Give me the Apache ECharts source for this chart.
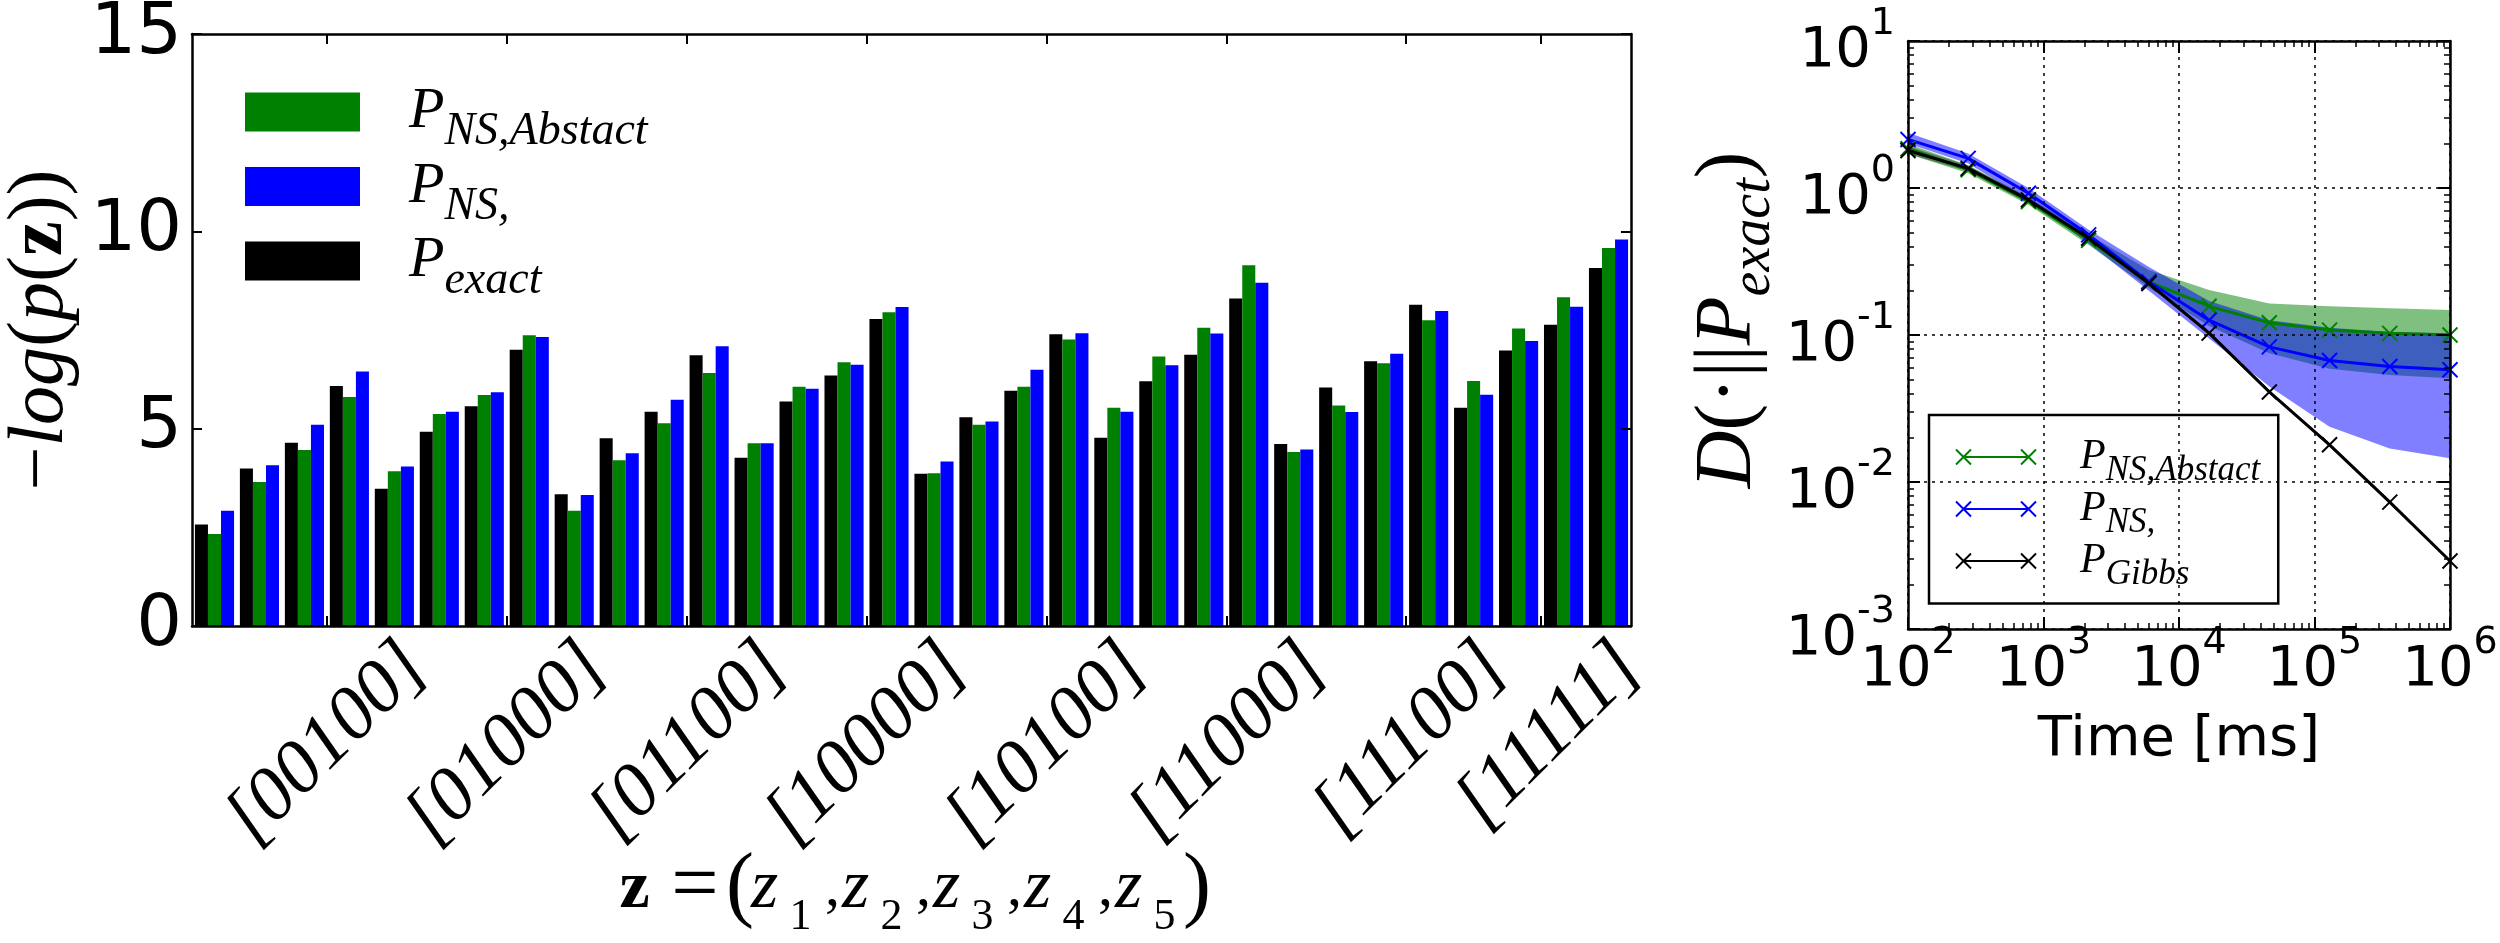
<!DOCTYPE html>
<html>
<head>
<meta charset="utf-8">
<script src="https://cdn.jsdelivr.net/npm/echarts@6/dist/echarts.min.js"></script>
<style>
html,body{margin:0;padding:0;background:#ffffff;}
#c{width:2500px;height:943px;}
</style>
</head>
<body>
<div id="c"></div>
<script>
// ---------------- data (left panel) ----------------
const categories = ['00000','00001','00010','00011','00100','00101','00110','00111',
  '01000','01001','01010','01011','01100','01101','01110','01111',
  '10000','10001','10010','10011','10100','10101','10110','10111',
  '11000','11001','11010','11011','11100','11101','11110','11111'];
const tickPos = [3, 7, 11, 15, 19, 23, 27, 30];
const tickLabels = ['[00100]','[01000]','[01100]','[10000]','[10100]','[11000]','[11100]','[11111]'];
const exactVals = [2.57,3.99,4.64,6.08,3.48,4.92,5.57,7.00,3.34,4.76,5.43,6.86,4.26,5.69,6.35,7.78,
  3.86,5.29,5.96,7.39,4.77,6.20,6.87,8.30,4.61,6.04,6.71,8.14,5.53,6.98,7.63,9.07];
const abstractVals = [2.33,3.65,4.46,5.80,3.92,5.37,5.85,7.37,2.92,4.20,5.14,6.41,4.63,6.06,6.68,7.95,
  3.87,5.10,6.06,7.26,5.53,6.83,7.56,9.14,4.41,5.59,6.66,7.75,6.21,7.54,8.33,9.58];
const nsVals = [2.92,4.07,5.10,6.45,4.04,5.43,5.92,7.32,3.32,4.38,5.73,7.09,4.63,6.01,6.62,8.08,
  4.17,5.18,6.49,7.42,5.43,6.61,7.41,8.70,4.47,5.42,6.90,7.98,5.86,7.22,8.09,9.79];
const leftYTicks = [0, 5, 10, 15];

// ---------------- data (right panel) ----------------
const timeMs = [100, 278, 774, 2154, 5995, 16681, 46416, 129155, 359381, 1000000];
const gibbsMean = [1.80, 1.36, 0.83, 0.455, 0.224, 0.103, 0.041, 0.0179, 0.0073, 0.0029];
const gibbsLow  = [1.70, 1.30, 0.80, 0.440, 0.218, 0.100, 0.040, 0.0174, 0.0071, 0.00282];
const gibbsHigh = [1.92, 1.42, 0.86, 0.470, 0.230, 0.106, 0.042, 0.0184, 0.0075, 0.00296];
const absMean = [1.85, 1.33, 0.81, 0.44, 0.23, 0.157, 0.121, 0.108, 0.1026, 0.100];
const absLow  = [1.70, 1.26, 0.77, 0.41, 0.21, 0.115, 0.075, 0.059, 0.0535, 0.0507];
const absHigh = [2.00, 1.43, 0.87, 0.48, 0.277, 0.2025, 0.164, 0.157, 0.152, 0.148];
const nsMean = [2.14, 1.59, 0.92, 0.48, 0.23, 0.126, 0.083, 0.067, 0.061, 0.058];
const nsLow  = [2.01, 1.47, 0.83, 0.42, 0.20, 0.0948, 0.0446, 0.0238, 0.0169, 0.0145];
const nsHigh = [2.38, 1.72, 1.00, 0.52, 0.29, 0.170, 0.126, 0.112, 0.105, 0.1026];
const minorMult = [2, 3, 4, 5, 6, 7, 8, 9];

const barLegend = {'bar-abstract': ['P', 'NS,Abstact'], 'bar-ns': ['P', 'NS,'], 'bar-exact': ['P', 'exact']};
const lineLegend = {'line-abstract': ['P', 'NS,Abstact'], 'line-ns': ['P', 'NS,'], 'line-gibbs': ['P', 'Gibbs']};

// ---------------- styling ----------------
const SERIF = "'Liberation Serif', 'DejaVu Serif', serif";
const SANS = "'DejaVu Sans', sans-serif";
const GREEN = '#008000', BLUE = '#0000ff', BLACK = '#000000';
const X_PATH = 'path://M0,0L10,10M10,0L0,10';
const LEG_PATH = 'path://M0,0L15,15M15,0L0,15M7.5,7.5L72.5,7.5M65,0L80,15M80,0L65,15';
const LABEL_SHIFT = 1.97;   // label anchor offset (category units) so the rotated text is centred on its tick

function minorLog(lo, hi) {
  const out = [];
  for (let e = lo; e < hi; e++) minorMult.forEach(m => out.push(e + Math.log10(m)));
  return out;
}
function sub(font, size, shift, extra) {
  return Object.assign({fontFamily: SERIF, fontSize: size, height: 1, lineHeight: 1,
    padding: [2 * shift, 0, 0, 0], verticalAlign: 'middle', color: BLACK}, font, extra || {});
}
function tok(font, size, extra) {
  return Object.assign({fontFamily: SERIF, fontSize: size, verticalAlign: 'middle', color: BLACK}, font, extra || {});
}
const IT = {fontStyle: 'italic'}, BD = {fontWeight: 'bold'}, RM = {};

const frameLine = {show: true, onZero: false, lineStyle: {color: BLACK, width: 2.5}};
const noLine = {show: false, onZero: false};
const supRich = {
  b: {fontFamily: SANS, fontSize: 56, height: 56, lineHeight: 56, padding: [20, 0, 0, 0], verticalAlign: 'middle', color: BLACK},
  s: {fontFamily: SANS, fontSize: 38, height: 1, lineHeight: 1, padding: [0, 0, 34, 0], verticalAlign: 'middle', color: BLACK}
};
const powFmt = v => '{b|10}{s|' + Math.round(Math.log10(v)) + '}';

function band(low, high, color) {
  return {
    type: 'custom', xAxisIndex: 3, yAxisIndex: 2, silent: true, z: 1, clip: true,
    data: [[timeMs[0], low[0]]],
    renderItem: function (params, api) {
      const pts = [];
      for (let i = 0; i < timeMs.length; i++) pts.push(api.coord([timeMs[i], high[i]]));
      for (let i = timeMs.length - 1; i >= 0; i--) pts.push(api.coord([timeMs[i], low[i]]));
      return {type: 'polygon', shape: {points: pts}, style: {fill: color}};
    }
  };
}
function line(name, vals, color, z) {
  return {
    type: 'line', name: name, xAxisIndex: 3, yAxisIndex: 2, z: z,
    data: timeMs.map((t, i) => [t, vals[i]]),
    symbol: X_PATH, symbolSize: 15, showAllSymbol: true,
    lineStyle: {color: color, width: 3},
    itemStyle: {color: color, borderColor: color, borderWidth: 2}
  };
}

const chart = echarts.init(document.getElementById('c'), null, {renderer: 'canvas', width: 2500, height: 943});
chart.setOption({
  animation: false,
  backgroundColor: '#ffffff',
  grid: [
    {left: 192, top: 34, width: 1439, height: 592, outerBoundsMode: 'none', containLabel: false},
    {left: 1908, top: 41, width: 542, height: 588, outerBoundsMode: 'none', containLabel: false}
  ],
  legend: [
    {
      orient: 'vertical', left: 245, top: 83, padding: 0,
      itemWidth: 115, itemHeight: 39, itemGap: 2.5, icon: 'rect', selectedMode: false,
      data: ['bar-abstract', 'bar-ns', 'bar-exact'],
      formatter: n => '{P|' + barLegend[n][0] + '}{s|' + barLegend[n][1] + '}',
      textStyle: {rich: {
        P: tok(IT, 58, {height: 39, lineHeight: 39, padding: [0, 0, 0, 44]}),
        s: sub(IT, 46, 20)
      }}
    },
    {
      orient: 'vertical', left: 1929, top: 415, padding: [21, 18, 11, 24.5],
      itemWidth: 80, itemHeight: 15, itemGap: -0.5, selectedMode: false,
      borderColor: BLACK, borderWidth: 2.5, backgroundColor: '#ffffff',
      data: [
        {name: 'line-abstract', icon: LEG_PATH, itemStyle: {color: 'none', borderColor: GREEN, borderWidth: 2}},
        {name: 'line-ns', icon: LEG_PATH, itemStyle: {color: 'none', borderColor: BLUE, borderWidth: 2}},
        {name: 'line-gibbs', icon: LEG_PATH, itemStyle: {color: 'none', borderColor: BLACK, borderWidth: 2}}
      ],
      formatter: n => '{P|' + lineLegend[n][0] + '}{s|' + lineLegend[n][1] + '}',
      textStyle: {rich: {
        P: tok(IT, 42, {height: 30, lineHeight: 30, padding: [0, 0, 0, 39]}),
        s: sub(IT, 35, 14)
      }}
    }
  ],
  xAxis: [
    {type: 'category', gridIndex: 0, position: 'bottom', data: categories, boundaryGap: true, z: 5,
     axisLine: frameLine, axisTick: {show: false}, axisLabel: {show: false}, splitLine: {show: false}},
    {type: 'value', gridIndex: 0, position: 'bottom', min: -0.5, max: 31.5, z: 5,
     axisLine: noLine,
     axisTick: {show: true, inside: true, length: 10, customValues: tickPos.map(p => p - 0.5), lineStyle: {color: BLACK, width: 2}},
     axisLabel: {show: true, customValues: tickPos.map(p => p - 0.5 + LABEL_SHIFT), rotate: 45, margin: 30,
       fontFamily: SERIF, fontStyle: 'italic', fontSize: 76, color: BLACK,
       formatter: v => { const k = tickPos.indexOf(Math.round(v + 0.5 - LABEL_SHIFT)); return k < 0 ? '' : tickLabels[k]; }},
     splitLine: {show: false},
     name: '{bz|z}{eq|=}{lp|(}{z|z}{sb|1}{cm|,}{z|z}{sb|2}{cm|,}{z|z}{sb|3}{cm|,}{z|z}{sb|4}{cm|,}{z|z}{sb|5}{rp|)}',
     nameLocation: 'middle', nameGap: 221, nameMoveOverlap: false,
     nameTextStyle: {color: BLACK, rich: {
       bz: tok(BD, 68, {width: 37}),
       eq: tok(RM, 84, {width: 68, padding: [0, 0, 0, 8]}),
       lp: tok(RM, 84, {width: 22}),
       z: tok(IT, 70, {width: 27}),
       sb: sub(RM, 44, 28, {width: 45}),
       cm: tok(RM, 60, {width: 19}),
       rp: tok(RM, 84, {width: 20})
     }}},
    {type: 'value', gridIndex: 0, position: 'top', min: -0.5, max: 31.5, z: 5,
     axisLine: frameLine,
     axisTick: {show: true, inside: true, length: 10, customValues: tickPos.map(p => p - 0.5), lineStyle: {color: BLACK, width: 2}},
     axisLabel: {show: false}, splitLine: {show: false}},
    {type: 'log', logBase: 10, gridIndex: 1, position: 'bottom', min: 100, max: 1000000, z: 5,
     axisLine: frameLine,
     axisTick: {show: true, inside: true, length: 12, lineStyle: {color: BLACK, width: 2}},
     axisLabel: {show: true, margin: 3, formatter: powFmt, rich: supRich},
     splitLine: {show: true, lineStyle: {color: BLACK, width: 1.5, type: [3, 5]}},
     name: 'Time [ms]', nameLocation: 'middle', nameGap: 83, nameMoveOverlap: false,
     nameTextStyle: {fontFamily: SANS, fontSize: 56, color: BLACK}},
    {type: 'log', logBase: 10, gridIndex: 1, position: 'top', min: 100, max: 1000000, z: 5,
     axisLine: frameLine,
     axisTick: {show: true, inside: true, length: 12, lineStyle: {color: BLACK, width: 2}},
     axisLabel: {show: false}, splitLine: {show: false}},
    {type: 'value', gridIndex: 1, position: 'bottom', min: 2, max: 6, z: 5, axisLine: noLine,
     axisTick: {show: true, inside: true, length: 6, customValues: minorLog(2, 6), lineStyle: {color: BLACK, width: 1.5}},
     axisLabel: {show: false}, splitLine: {show: false}},
    {type: 'value', gridIndex: 1, position: 'top', min: 2, max: 6, z: 5, axisLine: noLine,
     axisTick: {show: true, inside: true, length: 6, customValues: minorLog(2, 6), lineStyle: {color: BLACK, width: 1.5}},
     axisLabel: {show: false}, splitLine: {show: false}}
  ],
  yAxis: [
    {type: 'value', gridIndex: 0, position: 'left', min: 0, max: 15, interval: 5, z: 5,
     axisLine: frameLine,
     axisTick: {show: true, inside: true, length: 10, lineStyle: {color: BLACK, width: 2}},
     axisLabel: {show: true, margin: 10, fontFamily: SANS, fontSize: 72, color: BLACK,
       formatter: v => leftYTicks.indexOf(v) >= 0 ? String(v) : ''},
     splitLine: {show: false},
     name: '{m|−}{i|log}{n|(}{i|p}{n|(}{b|z}{n|))}', nameLocation: 'middle', nameGap: 112, nameRotate: 90, nameMoveOverlap: false,
     nameTextStyle: {color: BLACK, rich: {
       m: tok(RM, 78), i: tok(IT, 78), n: tok(RM, 78), b: tok(BD, 78)
     }}},
    {type: 'value', gridIndex: 0, position: 'right', min: 0, max: 15, interval: 5, z: 5,
     axisLine: frameLine,
     axisTick: {show: true, inside: true, length: 10, lineStyle: {color: BLACK, width: 2}},
     axisLabel: {show: false}, splitLine: {show: false}},
    {type: 'log', logBase: 10, gridIndex: 1, position: 'left', min: 0.001, max: 10, z: 5,
     axisLine: frameLine,
     axisTick: {show: true, inside: true, length: 12, lineStyle: {color: BLACK, width: 2}},
     axisLabel: {show: true, margin: 13, formatter: powFmt, rich: supRich},
     splitLine: {show: true, lineStyle: {color: BLACK, width: 1.5, type: [3, 5]}},
     name: '{i|D}{n|(·||}{i|P}{s|exact}{n|)}', nameLocation: 'middle', nameGap: 139, nameRotate: 90, nameMoveOverlap: false,
     nameTextStyle: {color: BLACK, padding: [0, 0, 0, 30], rich: {
       i: tok(IT, 80), n: tok(RM, 80), s: sub(IT, 56, 25)
     }}},
    {type: 'log', logBase: 10, gridIndex: 1, position: 'right', min: 0.001, max: 10, z: 5,
     axisLine: frameLine,
     axisTick: {show: true, inside: true, length: 12, lineStyle: {color: BLACK, width: 2}},
     axisLabel: {show: false}, splitLine: {show: false}},
    {type: 'value', gridIndex: 1, position: 'left', min: -3, max: 1, z: 5, axisLine: noLine,
     axisTick: {show: true, inside: true, length: 6, customValues: minorLog(-3, 1), lineStyle: {color: BLACK, width: 1.5}},
     axisLabel: {show: false}, splitLine: {show: false}},
    {type: 'value', gridIndex: 1, position: 'right', min: -3, max: 1, z: 5, axisLine: noLine,
     axisTick: {show: true, inside: true, length: 6, customValues: minorLog(-3, 1), lineStyle: {color: BLACK, width: 1.5}},
     axisLabel: {show: false}, splitLine: {show: false}}
  ],
  series: [
    {type: 'bar', name: 'bar-exact', xAxisIndex: 0, yAxisIndex: 0, data: exactVals, itemStyle: {color: BLACK}, barGap: '0%', barCategoryGap: '13%'},
    {type: 'bar', name: 'bar-abstract', xAxisIndex: 0, yAxisIndex: 0, data: abstractVals, itemStyle: {color: GREEN}, barGap: '0%', barCategoryGap: '13%'},
    {type: 'bar', name: 'bar-ns', xAxisIndex: 0, yAxisIndex: 0, data: nsVals, itemStyle: {color: BLUE}, barGap: '0%', barCategoryGap: '13%'},
    band(absLow, absHigh, 'rgba(0,128,0,0.5)'),
    band(nsLow, nsHigh, 'rgba(0,0,255,0.5)'),
    band(gibbsLow, gibbsHigh, 'rgba(0,0,0,0.35)'),
    line('line-abstract', absMean, GREEN, 3),
    line('line-ns', nsMean, BLUE, 3),
    line('line-gibbs', gibbsMean, BLACK, 4)
  ]
});
</script>
</body>
</html>
